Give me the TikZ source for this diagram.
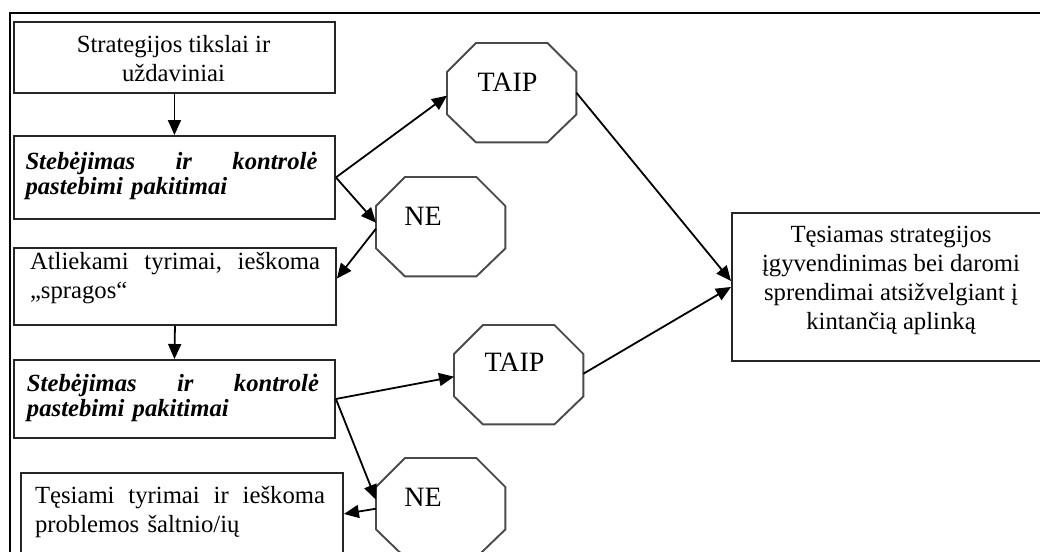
\documentclass[tikz,border=0pt]{standalone}
\usepackage{fontspec}
\setmainfont{Liberation Serif}
\usetikzlibrary{calc,arrows.meta}
\definecolor{boxc}{HTML}{262626}
\definecolor{octc}{HTML}{4A4A4A}
\begin{document}
\begin{tikzpicture}[x=1pt,y=-1pt,
  box/.style={draw=boxc,line width=1.9pt,rectangle,inner sep=0pt,anchor=north west},
  octbox/.style={rectangle,draw=none,inner sep=0pt,minimum width=129pt,minimum height=99pt,anchor=north west},
  octline/.style={draw=octc,line width=1.9pt,line join=miter},
  txt/.style={inner sep=0pt,font=\fontsize{24.7}{29}\selectfont,text=black},
  btxt/.style={inner sep=0pt,font=\fontsize{24.7}{25}\selectfont\bfseries\itshape,text width=292pt,align=left},
  lbl/.style={inner sep=0pt,font=\fontsize{28}{32}\selectfont},
  arr/.style={draw=black,line width=1.8pt,-{Triangle[length=15pt,width=13pt]}},
  frame/.style={draw=black,line width=2.4pt}
]
\useasboundingbox (0,0) rectangle (1040,551);
\clip (0,0) rectangle (1040,551);
\fill[white] (0,0) rectangle (1040,551);

% outer frame
\draw[frame] (10,570) -- (10,13) -- (1060,13);

% boxes
\node[box,minimum width=321pt,minimum height=71pt] (b1) at (13,21) {};
\node[box,minimum width=321pt,minimum height=83pt] (b2) at (13,135) {};
\node[box,minimum width=322pt,minimum height=77pt] (b3) at (13,247) {};
\node[box,minimum width=321pt,minimum height=78pt] (b4) at (13,359) {};
\node[box,minimum width=322pt,minimum height=82pt] (b5) at (20,472) {};
\node[box,minimum width=320pt,minimum height=148pt] (r) at (731,212) {};

% octagons
\node[octbox] (t1) at (447,43) {};
\node[octbox] (n1) at (376,177) {};
\node[octbox] (t2) at (454,325) {};
\node[octbox] (n2) at (376,458) {};
\foreach \n in {t1,n1,t2,n2}{
  \draw[octline] ($(\n.north west)+(29,0)$) -- ($(\n.north east)+(-29,0)$)
    -- ($(\n.north east)+(0,29)$) -- ($(\n.south east)+(0,-28)$)
    -- ($(\n.south east)+(-29,0)$) -- ($(\n.south west)+(29,0)$)
    -- ($(\n.south west)+(0,-28)$) -- ($(\n.north west)+(0,29)$) -- cycle;
}

% texts
\node[txt,align=center] (b1t) at (173.5,59) {Strategijos tikslai ir\\uždaviniai};
\node[btxt] (b2t) at (171.5,176) {Stebėjimas\hfill ir\hfill kontrolė\\pastebimi pakitimai};
\node[txt,text width=290pt,align=left] (b3t) at (175,278) {Atliekami\hfill tyrimai,\hfill ieškoma\\„spragos“};
\node[btxt] (b4t) at (173,398) {Stebėjimas\hfill ir\hfill kontrolė\\pastebimi pakitimai};
\node[txt,text width=290pt,align=left] (b5t) at (180,512) {Tęsiami\hfill tyrimai\hfill ir\hfill ieškoma\\problemos šaltnio/ių};
\node[txt,align=center] (rt) at (891,280) {Tęsiamas strategijos\\įgyvendinimas bei daromi\\sprendimai atsižvelgiant į\\kintančią aplinką};

\node[lbl] (t1l) at (507.5,82) {TAIP};
\node[lbl] (n1l) at (423,216) {NE};
\node[lbl] (t2l) at (514.5,362) {TAIP};
\node[lbl] (n2l) at (423,497) {NE};

% connectors
\draw[arr] (b1.south) -- (b2.north);
\draw[arr] (b2.east) -- ($(t1.north west)!0.53!(t1.south west)$);
\draw[arr] (b2.east) -- ($(n1.north west)!0.46!(n1.south west)$);
\draw[arr] ($(n1.north west)!0.52!(n1.south west)$) -- ($(b3.north east)!0.4!(b3.south east)$);
\draw[arr] (b3.south) -- (b4.north);
\draw[arr] (b4.east) -- ($(t2.north west)!0.52!(t2.south west)$);
\draw[arr] (b4.east) -- ($(n2.north west)!0.42!(n2.south west)$);
\draw[arr] ($(n2.north west)!0.51!(n2.south west)$) -- ($(b5.north east)!0.5!(b5.south east)$);
\draw[arr] ($(t1.north east)!0.5!(t1.south east)$) -- ($(r.north west)!0.46!(r.south west)$);
\draw[arr] ($(t2.north east)!0.49!(t2.south east)$) -- ($(r.north west)!0.5!(r.south west)$);
\end{tikzpicture}
\end{document}
